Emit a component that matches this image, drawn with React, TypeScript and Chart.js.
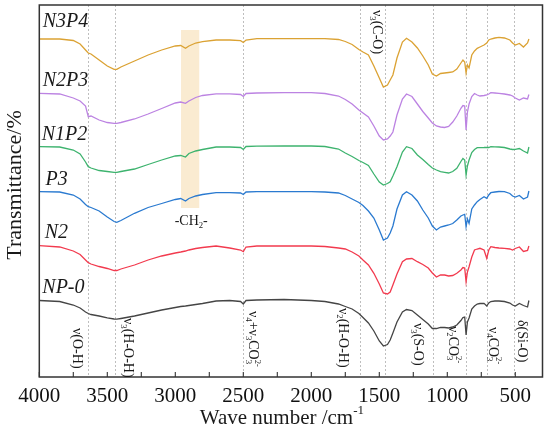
import React, { useEffect, useRef } from "react";
import { Chart, registerables } from "chart.js";

Chart.register(...registerables);

// Wave numbers (cm^-1) shared by every spectrum
const waveNumbers = [
  4000, 3850, 3750, 3700, 3660, 3640, 3620, 3560, 3500, 3450,
  3430, 3400, 3300, 3200, 3100, 3000, 2960, 2925, 2900, 2850,
  2800, 2700, 2600, 2520, 2500, 2480, 2400, 2200, 2000, 1900,
  1800, 1750, 1700, 1650, 1620, 1580, 1540, 1500, 1470, 1440,
  1420, 1400, 1370, 1330, 1300, 1260, 1220, 1180, 1140, 1110,
  1080, 1050, 1020, 990, 960, 930, 900, 885, 872, 862,
  852, 840, 820, 800, 780, 760, 730, 710, 695, 680,
  650, 620, 580, 540, 520, 500, 470, 440, 410, 400,
];

// Transmittance (offset, arbitrary units)
const n3p4 = [
  338, 338, 336.5, 333, 327, 324, 323, 317, 311, 307.7,
  307.7, 310, 316, 322, 327, 331, 331.5, 328.7, 331, 334,
  335.3, 337, 337, 336.3, 334.5, 337, 338.3, 338.3, 338.3, 338.3,
  337.5, 335.5, 332.5, 327.5, 325, 322, 311, 299, 290, 292,
  297, 302, 319, 335, 338.7, 335, 329, 321, 312, 303,
  301, 303.5, 304, 304.5, 305, 308, 314, 317, 315, 304,
  312, 309, 322, 326, 328.7, 330, 332, 334, 337, 338,
  339, 339.7, 339, 337, 334, 332, 333.5, 330, 334, 338,
];
const n2p3 = [
  283.7, 283, 279, 276, 271, 260.3, 261, 257, 254.5, 253.7,
  253.7, 254.5, 258, 263, 268.5, 274, 275, 273.7, 276, 279.5,
  281.5, 283.2, 283.2, 282.5, 280.5, 283.5, 284, 284.3, 284.3, 283.5,
  281, 277.5, 273, 267, 264, 260, 251, 241, 237, 238,
  241, 245, 262, 278, 283, 280.5, 273, 265.5, 259, 254,
  251, 250, 249.5, 250.5, 255, 261, 268.7, 271.5, 271, 247,
  265, 273, 280.5, 283.5, 282, 281, 281.5, 282, 283, 284.3,
  284, 283.7, 283, 282, 281, 279, 277, 279, 278, 282.5,
];
const n1p2 = [
  230.3, 230, 227, 223, 215, 210.3, 209, 206.5, 205.5, 204.7,
  204.7, 205.5, 208, 212.5, 217, 221, 221.5, 220, 223.5, 226,
  227.5, 230, 230, 229.5, 227.5, 230.5, 230.8, 231, 231, 230.5,
  228, 224, 220.5, 216.5, 214.5, 211.5, 203, 195, 192, 193.5,
  195.3, 201, 210.3, 225, 230.3, 228.5, 222, 217.5, 212.5, 209,
  207, 205.3, 204.7, 204, 205.5, 208.7, 215.5, 218.5, 217, 202,
  211, 217, 224.5, 227.5, 229.3, 229.3, 229.5, 229.7, 229.5, 230.3,
  230.2, 230, 229.5, 228, 227.5, 227.7, 228.5, 226, 224, 230,
];
const p3 = [
  185.3, 185, 182, 178, 172.5, 170.3, 169.5, 166, 160, 155.5,
  154.7, 156.5, 163.7, 169.5, 173.5, 177.5, 178.5, 176, 178.5, 181,
  182.5, 184.3, 184.3, 184, 182.5, 185, 185.3, 185.3, 185.3, 185,
  184, 181.5, 178, 174.5, 171.5, 166, 159, 147, 137, 139,
  144, 151, 168, 182, 185.3, 182, 176, 167, 159, 151,
  147, 150, 151, 152, 153.5, 157, 161, 162, 162.7, 150.3,
  158, 153.7, 168, 172, 175.3, 177.5, 180.3, 178.7, 182, 184.3,
  185, 185.5, 185.3, 183.5, 181, 180, 181.5, 178, 180, 186,
];
const n2 = [
  131.3, 130, 126, 122.5, 117, 114.3, 113, 110.5, 108.5, 106.5,
  106.5, 108, 112, 117, 121, 124, 125, 126, 127, 128.5,
  129.5, 131, 129, 127, 125.3, 130, 131, 131, 131, 130.5,
  129, 128, 125, 121, 117, 112, 103.7, 93, 84, 83,
  85, 92, 103, 115.3, 118, 118.5, 115.3, 112.5, 109, 104,
  100, 102, 102, 101, 101.5, 103.7, 107, 109.5, 109, 95.3,
  105, 110.3, 120, 127, 128, 128.7, 127, 118.7, 127, 130.3,
  129.5, 129, 128.7, 128, 127, 128.5, 130, 125.5, 126.5, 131,
];
const np0 = [
  76.5, 75.5, 72, 69, 65, 63.5, 62.5, 61, 59.2, 58,
  57.8, 58.5, 61, 64, 67, 69.5, 70.5, 71, 71.5, 72.5,
  73.5, 76, 76.5, 75.5, 73, 76.5, 77, 77.5, 76.5, 75.5,
  73, 70.5, 68, 63.5, 59.5, 54, 46, 36, 31, 32.5,
  37, 44, 55, 65, 67.5, 66.5, 62, 57.5, 53, 48.5,
  48.5, 49.7, 49.5, 49, 50, 52, 56.5, 59.5, 60, 42,
  55, 59, 68, 71, 73, 73.5, 73.7, 71, 74, 75.5,
  76, 76, 75.5, 74, 72, 71, 73.5, 71.5, 70, 76.5,
];

const seriesNames = ["N3P4", "N2P3", "N1P2", "P3", "N2", "NP-0"];
const seriesValues = [n3p4, n2p3, n1p2, p3, n2, np0];
const seriesColors = ["#DBA233", "#BC83E2", "#3DB36E", "#2A7AD0", "#F23A4E", "#454545"];
// where each series name sits (wave number, transmittance units)
const nameWave = [3975, 3975, 3982, 3955, 3960, 3978];
const nameLevel = [355, 296, 242, 197, 144, 89];

// x-axis ticks (every 250, labelled every 500)
const xTickValues = [4000, 3750, 3500, 3250, 3000, 2750, 2500, 2250, 2000, 1750, 1500, 1250, 1000, 750, 500];
const xTickLabelStep = 500;

// reference band positions (wave numbers)
const bandLines = [3640, 3440, 2500, 1640, 1460, 1105, 865, 710, 507];
// -CH2- highlighted region
const bandWave = [2958, 2824];
const bandLevel = [169, 347];

type Seg = { t: string; sub?: string; sup?: string };
const annoTexts: Seg[][] = [
  [{ t: "ν(O-H)" }],
  [{ t: "ν", sub: "3" }, { t: "(H-O-H)" }],
  [{ t: "ν", sub: "4" }, { t: "+ν", sub: "3" }, { t: "CO", sub: "3", sup: "2-" }],
  [{ t: "ν", sub: "2" }, { t: "(H-O-H)" }],
  [{ t: "ν", sub: "3" }, { t: "(S-O)" }],
  [{ t: "ν", sub: "2" }, { t: "CO", sub: "3", sup: "2-" }],
  [{ t: "ν", sub: "4" }, { t: "CO", sub: "3", sup: "2-" }],
  [{ t: "δ(Si-O)" }],
  [{ t: "ν", sub: "3" }, { t: "(C-O)" }],
];
const annoWave = [3726, 3348, 2432, 1767, 1219, 958, 664, 454, 1521];
const annoLevel = [49, 59, 66, 69, 54, 51, 50, 57, 367];

const ch2Text: Seg[] = [{ t: "-CH", sub: "2" }, { t: "-" }];
const ch2Wave = 2883;
const ch2Level = 155.3;

const xTitle: Seg[] = [{ t: "Wave number /cm", sup: "-1" }];
const yTitle = "Transmittance/%";

const FAM = '"Liberation Serif", "Times New Roman", serif';

function richWidth(ctx: CanvasRenderingContext2D, segs: Seg[], size: number) {
  let w = 0;
  for (const s of segs) {
    ctx.font = `${size}px ${FAM}`;
    w += ctx.measureText(s.t).width;
    ctx.font = `${size * 0.62}px ${FAM}`;
    const a = s.sub ? ctx.measureText(s.sub).width : 0;
    const b = s.sup ? ctx.measureText(s.sup).width : 0;
    w += Math.max(a, b);
  }
  return w;
}

function drawRich(
  ctx: CanvasRenderingContext2D,
  segs: Seg[],
  x: number,
  y: number,
  size: number,
  center: boolean
) {
  let cx = center ? x - richWidth(ctx, segs, size) / 2 : x;
  ctx.textAlign = "left";
  ctx.textBaseline = "middle";
  for (const s of segs) {
    ctx.font = `${size}px ${FAM}`;
    ctx.fillText(s.t, cx, y);
    cx += ctx.measureText(s.t).width;
    ctx.font = `${size * 0.62}px ${FAM}`;
    let w = 0;
    if (s.sub) {
      ctx.fillText(s.sub, cx, y + size * 0.3);
      w = Math.max(w, ctx.measureText(s.sub).width);
    }
    if (s.sup) {
      ctx.fillText(s.sup, cx, y - size * 0.36);
      w = Math.max(w, ctx.measureText(s.sup).width);
    }
    cx += w;
  }
}

const decorPlugin = {
  id: "decor",
  beforeDatasetsDraw(chart: any) {
    const { ctx, chartArea: a, scales } = chart;
    const xs = scales.x;
    const ys = scales.y;
    ctx.save();
    // highlighted CH2 band
    const bx1 = xs.getPixelForValue(bandWave[0]);
    const bx2 = xs.getPixelForValue(bandWave[1]);
    const by1 = ys.getPixelForValue(bandLevel[1]);
    const by2 = ys.getPixelForValue(bandLevel[0]);
    ctx.fillStyle = "rgba(246, 222, 178, 0.6)";
    ctx.fillRect(bx1, by1, bx2 - bx1, by2 - by1);
    // dashed reference lines
    ctx.strokeStyle = "rgba(165,165,165,0.9)";
    ctx.lineWidth = 0.8;
    ctx.setLineDash([2, 2]);
    for (const w of bandLines) {
      const px = Math.round(xs.getPixelForValue(w)) + 0.5;
      ctx.beginPath();
      ctx.moveTo(px, a.top);
      ctx.lineTo(px, a.bottom);
      ctx.stroke();
    }
    ctx.restore();
  },
  afterDraw(chart: any) {
    const { ctx, chartArea: a, scales } = chart;
    const xs = scales.x;
    const ys = scales.y;
    ctx.save();
    // frame
    ctx.strokeStyle = "#333";
    ctx.lineWidth = 1.5;
    ctx.setLineDash([]);
    ctx.strokeRect(a.left, a.top, a.right - a.left, a.bottom - a.top);
    // inner ticks
    ctx.lineWidth = 1.1;
    for (const t of xs.ticks) {
      const px = xs.getPixelForValue(t.value);
      ctx.beginPath();
      ctx.moveTo(px, a.bottom);
      ctx.lineTo(px, a.bottom - 5);
      ctx.stroke();
    }
    ctx.fillStyle = "#1a1a1a";
    // series names
    ctx.font = `italic 20px ${FAM}`;
    ctx.textAlign = "left";
    ctx.textBaseline = "middle";
    seriesNames.forEach((n, i) => {
      ctx.fillText(n, xs.getPixelForValue(nameWave[i]), ys.getPixelForValue(nameLevel[i]));
    });
    // rotated annotations
    annoTexts.forEach((segs, i) => {
      ctx.save();
      ctx.translate(xs.getPixelForValue(annoWave[i]), ys.getPixelForValue(annoLevel[i]));
      ctx.rotate(Math.PI / 2);
      drawRich(ctx, segs, 0, 0, 14, false);
      ctx.restore();
    });
    // -CH2-
    drawRich(ctx, ch2Text, xs.getPixelForValue(ch2Wave), ys.getPixelForValue(ch2Level), 14, true);
    // axis titles
    drawRich(ctx, xTitle, (a.left + a.right) / 2 - 9, a.bottom + 41, 21, true);
    ctx.save();
    ctx.translate(a.left - 24, (a.top + a.bottom) / 2 - 6);
    ctx.rotate(-Math.PI / 2);
    ctx.font = `22px ${FAM}`;
    ctx.textAlign = "center";
    ctx.textBaseline = "middle";
    ctx.fillText(yTitle, 0, 0);
    ctx.restore();
    ctx.restore();
  },
};

export default function App() {
  const ref = useRef<HTMLCanvasElement | null>(null);
  useEffect(() => {
    if (!ref.current) return;
    const chart = new Chart(ref.current, {
      type: "line",
      data: {
        datasets: seriesNames.map((name, i) => ({
          label: name,
          data: waveNumbers.map((w, j) => ({ x: w, y: seriesValues[i][j] })),
          borderColor: seriesColors[i],
          borderWidth: 1.3,
          pointRadius: 0,
          tension: 0,
          fill: false,
        })),
      },
      options: {
        animation: false,
        responsive: false,
        devicePixelRatio: 1,
        layout: { padding: { left: 39.3, top: 5, right: 7.5, bottom: 0 } },
        plugins: { legend: { display: false }, tooltip: { enabled: false } },
        scales: {
          x: {
            type: "linear",
            reverse: true,
            min: 300,
            max: 4000,
            afterBuildTicks: (s: any) => {
              s.ticks = xTickValues.map((v) => ({ value: v }));
            },
            afterFit: (s: any) => {
              s.height = 56;
            },
            grid: { display: false, drawTicks: false },
            border: { display: false },
            ticks: {
              autoSkip: false,
              maxRotation: 0,
              minRotation: 0,
              padding: 7,
              color: "#111",
              font: { family: FAM, size: 21 },
              callback: (v: any) => (Number(v) % xTickLabelStep === 0 ? String(v) : ""),
            },
          },
          y: {
            display: false,
            min: 0,
            max: 372,
          },
        },
      },
      plugins: [decorPlugin],
    });
    return () => chart.destroy();
  }, []);
  return (
    <div style={{ position: "absolute", left: 0, top: 0, width: 550, height: 433, background: "#fff" }}>
      <canvas ref={ref} width={550} height={433} style={{ display: "block" }} />
    </div>
  );
}
